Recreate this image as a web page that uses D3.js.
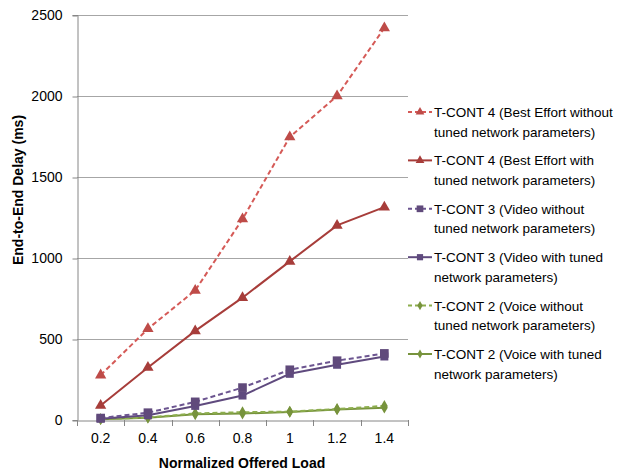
<!DOCTYPE html>
<html><head><meta charset="utf-8">
<script src="https://cdn.jsdelivr.net/npm/d3@7"></script>
<style>body{margin:0;background:#fff}svg{display:block}</style>
</head><body><svg id="c" width="630" height="470"></svg>
<script>
const categories = ["0.2","0.4","0.6","0.8","1","1.2","1.4"];
const yTicks = [0,500,1000,1500,2000,2500];
const beWithout = [277,563,800,1240,1747,2000,2420];
const beWith = [90,324,550,755,979,1201,1314];
const videoWithout = [12,45,112,200,310,366,411];
const videoWith = [8,29,87,151,285,341,392];
const voiceWithout = [6,15,41,48,52,68,87];
const voiceWith = [5,14,35,40,50,65,76];
const seriesNames = [
  ["T-CONT 4 (Best Effort without","tuned network parameters)"],
  ["T-CONT 4 (Best Effort with","tuned network parameters)"],
  ["T-CONT 3 (Video without","tuned network parameters)"],
  ["T-CONT 3 (Video with tuned","network parameters)"],
  ["T-CONT 2 (Voice without","tuned network parameters)"],
  ["T-CONT 2 (Voice with tuned","network parameters)"]
];
const series = [
  {values:beWithout, color:"#D55A57", mcolor:"#BE4B48", dash:"5,3", shape:d3.symbolTriangle, size:55},
  {values:beWith, color:"#A73D3A", mcolor:"#A73D3A", dash:null, shape:d3.symbolTriangle, size:55},
  {values:videoWithout, color:"#6C5590", mcolor:"#604A7B", dash:"5,3", shape:d3.symbolSquare, size:75},
  {values:videoWith, color:"#5F4A7E", mcolor:"#5F4A7E", dash:null, shape:d3.symbolSquare, size:64},
  {values:voiceWithout, color:"#8DAE4E", mcolor:"#77933C", dash:"5,3", shape:d3.symbolDiamond, size:40},
  {values:voiceWith, color:"#77933C", mcolor:"#77933C", dash:null, shape:d3.symbolDiamond, size:40}
];
const font = "Liberation Sans, Arial, sans-serif";
const svg = d3.select("#c");
const L = 77, R = 408, T = 15, B = 420;
const x = d3.scaleBand().domain(categories).range([L,R]);
const y = d3.scaleLinear().domain([0,2500]).range([B,T]);

// gridlines
svg.append("g").selectAll("line").data(yTicks.filter(d=>d>0)).join("line")
  .attr("x1",L).attr("x2",R).attr("y1",d=>y(d)+0.5).attr("y2",d=>y(d)+0.5)
  .attr("stroke","#A6A6A6").attr("stroke-width",1);

// y axis
const ya = svg.append("g").attr("transform",`translate(${L+0.5},0)`)
  .call(d3.axisLeft(y).tickValues(yTicks).tickSize(5).tickPadding(10).tickFormat(d3.format("d")));
ya.select(".domain").attr("stroke","#868686");
ya.selectAll(".tick line").attr("stroke","#868686").attr("transform","translate(0,0.5)");
ya.selectAll("text").attr("font-family",font).attr("font-size",14).attr("fill","#000");

// x axis
const xa = svg.append("g").attr("transform",`translate(0,${B+0.5})`)
  .call(d3.axisBottom(x).tickSize(0).tickPadding(13));
xa.select(".domain").attr("stroke","#868686");
xa.selectAll("text").attr("font-family",font).attr("font-size",14).attr("fill","#000");
svg.append("g").selectAll("line").data(d3.range(categories.length+1)).join("line")
  .attr("x1",i=>Math.round(L+i*x.step())+0.5).attr("x2",i=>Math.round(L+i*x.step())+0.5)
  .attr("y1",B).attr("y2",B+6).attr("stroke","#868686");

// titles
svg.append("text").attr("x",242).attr("y",468).attr("text-anchor","middle")
  .attr("font-family",font).attr("font-size",14).attr("font-weight","bold").text("Normalized Offered Load");
svg.append("text").attr("transform","translate(23,190) rotate(-90)").attr("text-anchor","middle")
  .attr("font-family",font).attr("font-size",14).attr("font-weight","bold").text("End-to-End Delay (ms)");

// series
const cx = c => x(c) + x.bandwidth()/2;
const line = d3.line().x((d,i)=>cx(categories[i])).y(d=>y(d));
series.slice().reverse().forEach(s=>{
  svg.append("path").datum(s.values).attr("d",line).attr("fill","none")
    .attr("stroke",s.color).attr("stroke-width",2).attr("stroke-dasharray",s.dash);
  svg.append("g").selectAll("path").data(s.values).join("path")
    .attr("transform",(d,i)=>`translate(${cx(categories[i])},${y(d)})`)
    .attr("d",d3.symbol(s.shape,s.size)).attr("fill",s.mcolor);
});

// legend
const lg = svg.append("g");
series.forEach((s,i)=>{
  const yy = 112 + i*48.4;
  lg.append("line").attr("x1",408).attr("x2",432).attr("y1",yy).attr("y2",yy)
    .attr("stroke",s.color).attr("stroke-width",2).attr("stroke-dasharray",s.dash?"4,3":null);
  lg.append("path").attr("transform",`translate(420,${yy})`).attr("d",d3.symbol(s.shape,s.size*0.6)).attr("fill",s.mcolor);
  seriesNames[i].forEach((t,j)=>{
    lg.append("text").attr("x",434).attr("y",yy+5+j*19.5).attr("font-family",font)
      .attr("font-size",13.5).attr("fill","#000").text(t);
  });
});
</script></body></html>
